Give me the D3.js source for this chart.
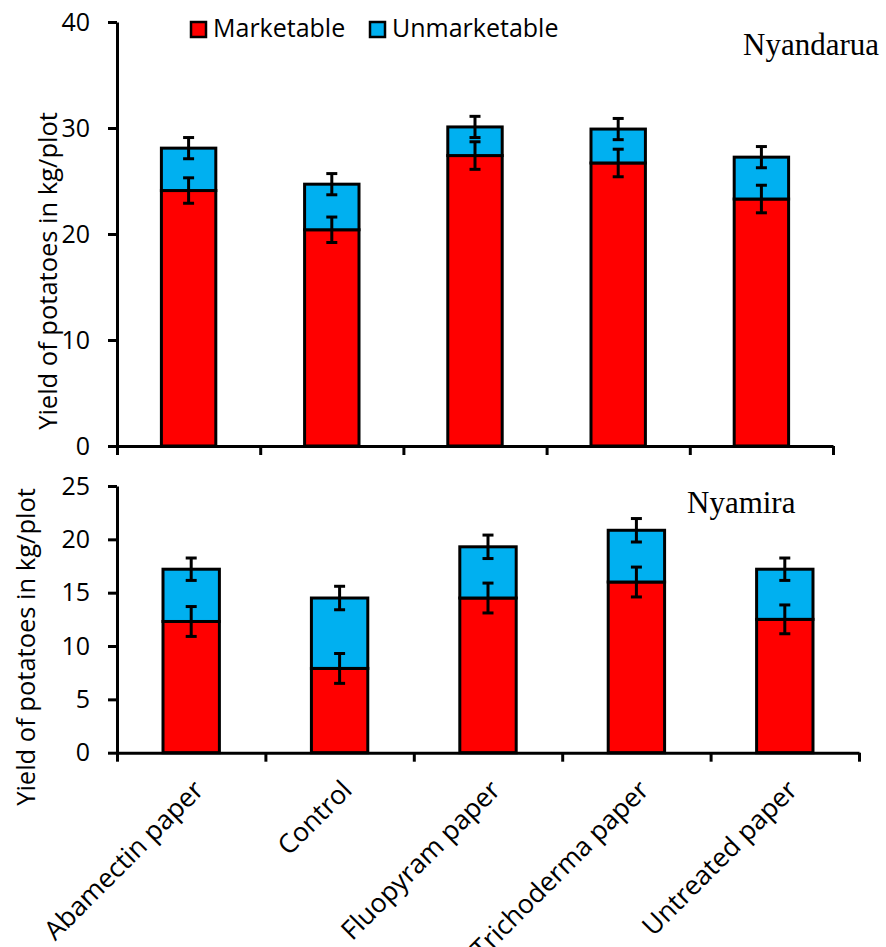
<!DOCTYPE html>
<html>
<head>
<meta charset="utf-8">
<script src="https://cdn.jsdelivr.net/npm/d3@7/dist/d3.min.js"></script>
<style>
  html, body { margin: 0; padding: 0; background: #ffffff; }
  svg { display: block; }
  .axis path, .axis line { stroke: #000; stroke-width: 3; }
  .axis text { font-family: "Open Sans", sans-serif; font-size: 25px; fill: #000; }
</style>
</head>
<body>
<svg id="chart" width="886" height="947"></svg>
<script>
// Treatments (x categories)
const categories = ["Abamectin paper", "Control", "Fluopyram paper", "Trichoderma paper", "Untreated paper"];
const seriesNames = ["Marketable", "Unmarketable"];

// Nyandarua yields (kg/plot)
const nyandaruaMarketable = [24.1, 20.4, 27.4, 26.7, 23.3];
const nyandaruaUnmarketable = [4.0, 4.3, 2.7, 3.2, 3.95];
const nyandaruaMarketableErr = [1.2, 1.2, 1.3, 1.3, 1.3];
const nyandaruaUnmarketableErr = [1.0, 1.0, 1.0, 1.0, 1.0];
const nyandaruaTicks = [0, 10, 20, 30, 40];

// Nyamira yields (kg/plot)
const nyamiraMarketable = [12.3, 7.9, 14.5, 16.0, 12.5];
const nyamiraUnmarketable = [4.9, 6.6, 4.8, 4.85, 4.7];
const nyamiraMarketableErr = [1.4, 1.4, 1.4, 1.4, 1.35];
const nyamiraUnmarketableErr = [1.05, 1.1, 1.1, 1.1, 1.05];
const nyamiraTicks = [0, 5, 10, 15, 20, 25];

const colors = { Marketable: "#FF0000", Unmarketable: "#00B0F0" };

const svg = d3.select("#chart");

function drawPanel(opts) {
  const { x0, x1, yTop, yBottom, yMax, ticks, marketable, unmarketable, mErr, uErr, site, siteX, siteY, titleX, titleY, showLabels } = opts;
  const g = svg.append("g");

  const rows = categories.map((c, i) => ({ cat: c, Marketable: marketable[i], Unmarketable: unmarketable[i], mErr: mErr[i], uErr: uErr[i] }));

  const x = d3.scaleBand().domain(categories).range([x0, x1]).paddingInner(0.62).paddingOuter(0.31);
  const xIdx = d3.scaleLinear().domain([0, categories.length]).range([x0, x1]);
  const y = d3.scaleLinear().domain([0, yMax]).range([yBottom, yTop]);

  const stacked = d3.stack().keys(seriesNames)(rows);

  // stacked bars
  g.selectAll("g.layer").data(stacked).join("g")
    .attr("class", "layer")
    .attr("fill", d => colors[d.key])
    .selectAll("rect").data(d => d).join("rect")
    .attr("x", d => x(d.data.cat))
    .attr("width", x.bandwidth())
    .attr("y", d => y(d[1]))
    .attr("height", d => y(d[0]) - y(d[1]))
    .attr("stroke", "#000")
    .attr("stroke-width", 3);

  // error bars at the top of each segment
  const errs = [];
  rows.forEach(r => {
    const total = r.Marketable + r.Unmarketable;
    errs.push({ cat: r.cat, v: r.Marketable, e: r.mErr });
    errs.push({ cat: r.cat, v: total, e: r.uErr });
  });
  const eg = g.selectAll("g.err").data(errs).join("g").attr("class", "err")
    .attr("stroke", "#000").attr("stroke-width", 3);
  const cx = d => x(d.cat) + x.bandwidth() / 2;
  eg.append("line").attr("x1", cx).attr("x2", cx).attr("y1", d => y(d.v - d.e)).attr("y2", d => y(d.v + d.e));
  eg.append("line").attr("x1", d => cx(d) - 5.5).attr("x2", d => cx(d) + 5.5).attr("y1", d => y(d.v + d.e)).attr("y2", d => y(d.v + d.e));
  eg.append("line").attr("x1", d => cx(d) - 5.5).attr("x2", d => cx(d) + 5.5).attr("y1", d => y(d.v - d.e)).attr("y2", d => y(d.v - d.e));

  // y axis
  g.append("g").attr("class", "axis")
    .attr("transform", `translate(${x0},0)`)
    .call(d3.axisLeft(y).tickValues(ticks).tickSize(9).tickSizeOuter(0).tickPadding(18).tickFormat(d3.format("d")));

  // x axis with ticks between categories
  g.append("g").attr("class", "axis")
    .attr("transform", `translate(0,${yBottom})`)
    .call(d3.axisBottom(xIdx).tickValues(d3.range(categories.length + 1)).tickSize(9).tickSizeOuter(0).tickFormat(""));

  // category labels
  if (showLabels) {
    g.append("g").selectAll("text").data(categories).join("text")
      .attr("transform", d => `translate(${x(d) + x.bandwidth() / 2 + 14},${yBottom + 39}) rotate(-45)`)
      .attr("text-anchor", "end")
      .attr("font-family", "Open Sans, sans-serif")
      .attr("font-size", 26.5)
      .text(d => d);
  }

  // y axis title
  g.append("text")
    .attr("transform", `translate(${titleX},${titleY}) rotate(-90)`)
    .attr("text-anchor", "middle")
    .attr("font-family", "Open Sans, sans-serif")
    .attr("font-size", 25.5)
    .text("Yield of potatoes in kg/plot");

  // site name
  g.append("text")
    .attr("x", siteX).attr("y", siteY)
    .attr("font-family", "Liberation Serif, Times New Roman, serif")
    .attr("font-size", 31)
    .text(site);
}

drawPanel({
  x0: 117, x1: 833, yTop: 22, yBottom: 446, yMax: 40, ticks: nyandaruaTicks,
  marketable: nyandaruaMarketable, unmarketable: nyandaruaUnmarketable,
  mErr: nyandaruaMarketableErr, uErr: nyandaruaUnmarketableErr,
  site: "Nyandarua", siteX: 743, siteY: 55, titleX: 57, titleY: 271, showLabels: false
});

drawPanel({
  x0: 117, x1: 859, yTop: 486, yBottom: 752.7, yMax: 25, ticks: nyamiraTicks,
  marketable: nyamiraMarketable, unmarketable: nyamiraUnmarketable,
  mErr: nyamiraMarketableErr, uErr: nyamiraUnmarketableErr,
  site: "Nyamira", siteX: 687, siteY: 513, titleX: 35, titleY: 647, showLabels: true
});

// legend
const legend = svg.append("g");
const legendItems = [
  { key: "Marketable", sx: 190, tx: 213 },
  { key: "Unmarketable", sx: 369, tx: 392 }
];
legendItems.forEach(it => {
  legend.append("rect").attr("x", it.sx + 1).attr("y", 22).attr("width", 15).attr("height", 15)
    .attr("fill", colors[it.key]).attr("stroke", "#000").attr("stroke-width", 2.5);
  legend.append("text").attr("x", it.tx).attr("y", 37)
    .attr("font-family", "Open Sans, sans-serif").attr("font-size", 25)
    .text(it.key);
});
</script>
</body>
</html>
